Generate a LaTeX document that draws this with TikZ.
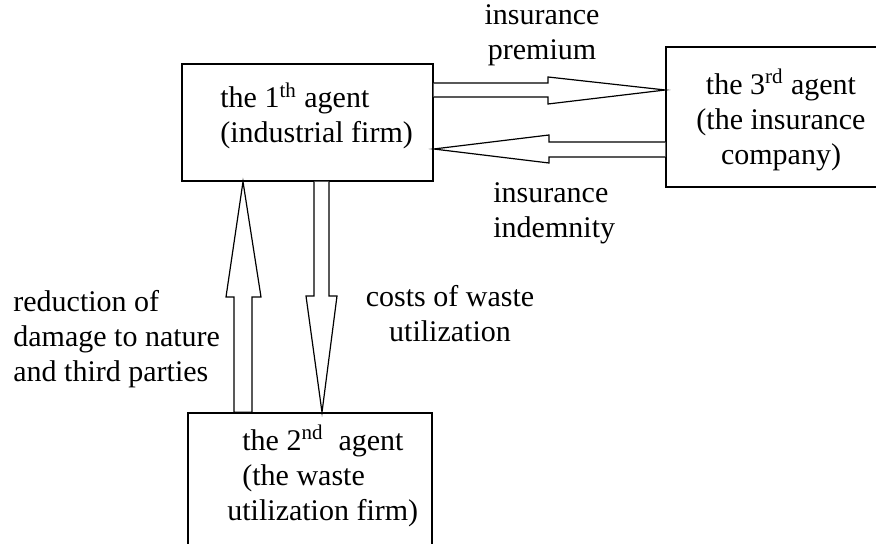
\documentclass[tikz,border=0pt]{standalone}
\usepackage{fontspec}
\setmainfont{Liberation Serif}
\tikzset{
  agent/.style={draw, line width=0.7pt, inner sep=0pt},
  lbl/.style={inner sep=0pt, font=\fontsize{15pt}{17.5pt}\selectfont},
  blockarrow/.style={draw, line width=0.6pt, fill=white}
}
\begin{document}
\begin{tikzpicture}[x=0.5pt,y=-0.5pt]
\useasboundingbox (0,0) rectangle (876,544);
\clip (0,0) rectangle (876,544);

% the three agents
\node[agent, minimum width=125.5pt, minimum height=58.5pt] (a1) at (307.5,122.5) {};
\node[agent, minimum width=110pt, minimum height=70pt] (a3) at (776,117) {};
\node[agent, minimum width=122pt, minimum height=80pt] (a2) at (310,493) {};

\node[lbl, anchor=west, align=left] (t1) at (220,116) {the 1\textsuperscript{th} agent\\(industrial firm)};
\node[lbl, align=center] (t3) at (781,120) {the 3\textsuperscript{rd} agent\\(the insurance\\company)};
\node[lbl, anchor=west, align=left] (t2) at (227,476) {\hspace*{7.5pt}the 2\textsuperscript{nd}\ \ agent\\\hspace*{7.5pt}(the waste\\utilization firm)};

% block arrows between the agents
\draw[blockarrow] (a1.east |- 0,83) -- (548,83) -- (548,77) -- (a3.west |- 0,90)
  -- (548,104) -- (548,97) -- (a1.east |- 0,97);
\draw[blockarrow] (a3.west |- 0,142) -- (549,142) -- (549,135) -- (a1.east |- 0,149)
  -- (549,163) -- (549,157) -- (a3.west |- 0,157);
\draw[blockarrow] (234,0 |- a2.north) -- (234,297) -- (226,297) -- (243,0 |- a1.south)
  -- (261,297) -- (252,297) -- (252,0 |- a2.north) -- cycle;
\draw[blockarrow] (314,0 |- a1.south) -- (314,296) -- (306,296) -- (322,0 |- a2.north)
  -- (337,296) -- (329,296) -- (329,0 |- a1.south);

% labels of the flows
\node[lbl, align=center] (prem) at (542,35) {insurance\\premium};
\node[lbl, anchor=west, align=left] (indem) at (493,213) {insurance\\indemnity};
\node[lbl, anchor=west, align=left] (redu) at (13,339) {reduction of\\damage to nature\\and third parties};
\node[lbl, align=center] (cost) at (450,314) {costs of waste\\utilization};

\end{tikzpicture}
\end{document}
